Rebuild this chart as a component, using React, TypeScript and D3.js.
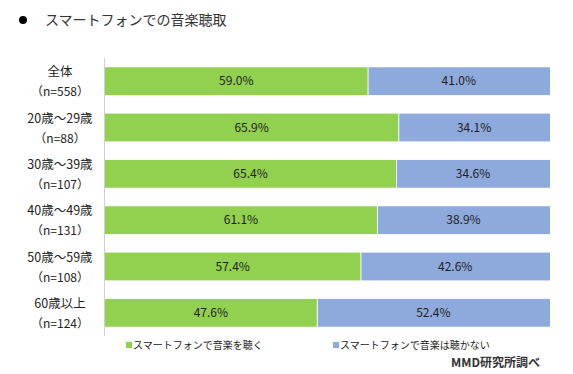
import React from 'react';
import * as d3 from 'd3';

const groups = ['全体', '20歳～29歳', '30歳～39歳', '40歳～49歳', '50歳～59歳', '60歳以上'];
const counts = ['（n=558）', '（n=88）', '（n=107）', '（n=131）', '（n=108）', '（n=124）'];
const listen = [59.0, 65.9, 65.4, 61.1, 57.4, 47.6];
const notListen = [41.0, 34.1, 34.6, 38.9, 42.6, 52.4];
const seriesNames = ['スマートフォンで音楽を聴く', 'スマートフォンで音楽は聴かない'];
const colors = ['#92D050', '#8EA9DB'];

const W = 573;
const H = 374;
const font = '"Noto Sans CJK JP", "Noto Sans", sans-serif';

export default function App() {
  const x = d3.scaleLinear().domain([0, 100]).range([105, 550]);
  const y = d3.scaleBand().domain(groups).range([58, 336]).paddingInner(0.4).paddingOuter(0.2);

  const rows = groups.map((g, i) => ({ g, n: counts[i], vals: [listen[i], notListen[i]] }));

  return (
    <svg width={W} height={H} style={{ position: 'absolute', left: 0, top: 0, background: '#fff' }} fontFamily={font}>
      <circle cx={23} cy={20} r={4} fill="#000" />
      <text x={45} y={25} fontSize={14} fill="#333">スマートフォンでの音楽聴取</text>

      {rows.map(r => {
        let acc = 0;
        const y0 = y(r.g)!;
        return (
          <g key={r.g}>
            {r.vals.map((v, j) => {
              const x0 = x(acc);
              acc += v;
              const x1 = x(acc);
              return (
                <g key={j}>
                  <rect x={x0 + (j > 0 ? 1 : 0)} y={y0} width={x1 - x0 - (j > 0 ? 1 : 0)} height={y.bandwidth()} fill={colors[j]} />
                  <text x={(x0 + x1) / 2} y={y0 + y.bandwidth() / 2 + 4} textAnchor="middle" fontSize={12} fill="#222">
                    {v.toFixed(1)}%
                  </text>
                </g>
              );
            })}
            <text x={60} y={y0 + 9} textAnchor="middle" fontSize={12.5} fill="#222">{r.g}</text>
            <text x={60} y={y0 + 29} textAnchor="middle" fontSize={12} fill="#222">{r.n}</text>
          </g>
        );
      })}

      <line x1={104.5} x2={104.5} y1={58} y2={336} stroke="#d0d0d0" />

      {seriesNames.map((s, i) => (
        <g key={s} transform={`translate(${i === 0 ? 126 : 333},0)`}>
          <rect x={0} y={342} width={6} height={6} fill={colors[i]} />
          <text x={7} y={349} fontSize={10} fill="#222">{s}</text>
        </g>
      ))}

      <text x={540} y={367} textAnchor="end" fontSize={12} fontWeight="bold" fill="#333">MMD研究所調べ</text>
    </svg>
  );
}
